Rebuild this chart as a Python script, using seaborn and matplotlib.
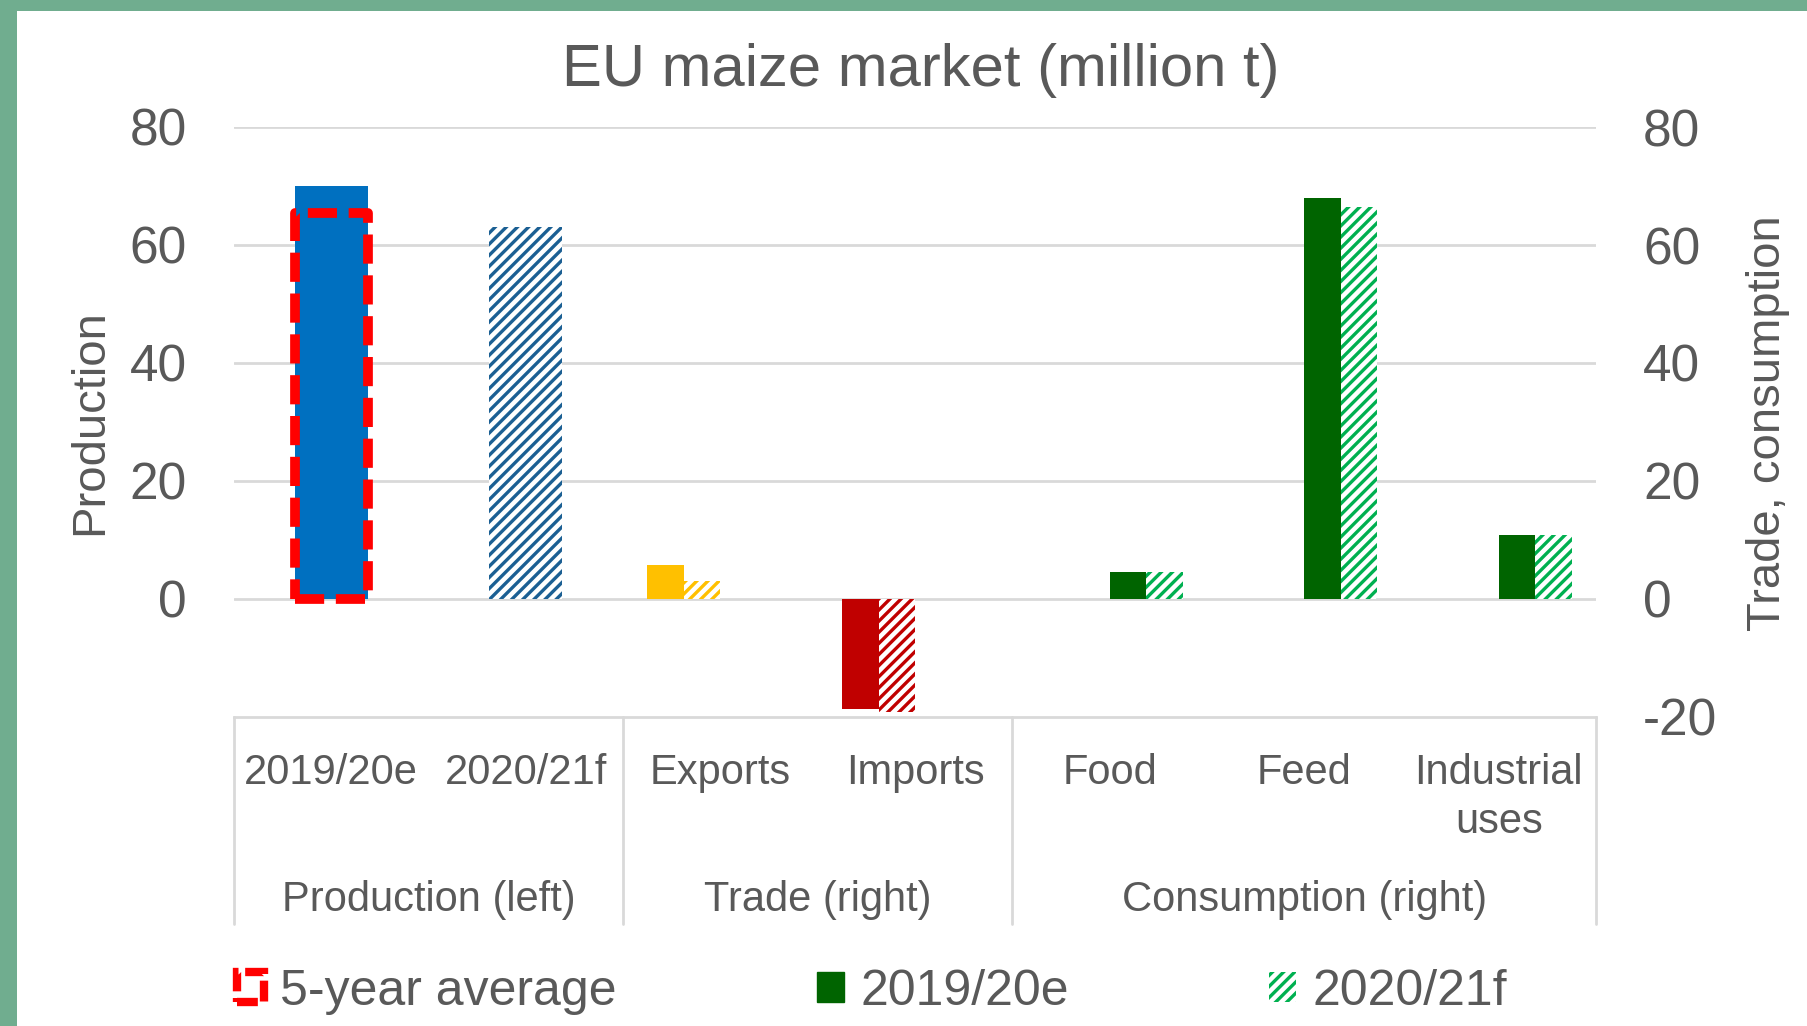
import matplotlib
matplotlib.use('Agg')
import matplotlib.pyplot as plt
from matplotlib.patches import Patch, Rectangle
import matplotlib.transforms as mtransforms
import seaborn as sns
import pandas as pd

# data (million t)
categories = ['2019/20e', '2020/21f', 'Exports', 'Imports', 'Food', 'Feed', 'Industrial\nuses']
groups = ['Production (left)', 'Trade (right)', 'Consumption (right)']
group_sizes = [2, 2, 3]

prod_cats = ['2019/20e', '2020/21f']
prod_vals = [70.0, 63.0]
five_year_avg = 65.5

trade_cats = ['Exports', 'Imports']
trade_1920 = [5.7, -18.6]
trade_2021 = [3.0, -19.2]

cons_cats = ['Food', 'Feed', 'Industrial\nuses']
cons_1920 = [4.5, 68.0, 10.9]
cons_2021 = [4.5, 66.4, 10.9]

# Excel puts trade pairs left of the tick and consumption pairs right of it
series = ['trade 2019/20e', 'trade 2020/21f', 'cons 2019/20e', 'cons 2020/21f']

solid_col = {'2019/20e': '#0070C0', 'Exports': '#FFC000', 'Imports': '#C00000',
             'Food': '#006400', 'Feed': '#006400', 'Industrial\nuses': '#006400'}
hatch_col = {'2020/21f': '#1B5F93', 'Exports': '#FFC000', 'Imports': '#C00000',
             'Food': '#00B050', 'Feed': '#00B050', 'Industrial\nuses': '#00B050'}

sns.set_theme(style='white')
plt.rcParams['font.family'] = ['Liberation Sans', 'DejaVu Sans']
plt.rcParams['axes.unicode_minus'] = False
plt.rcParams['hatch.linewidth'] = 2.4
txt = '#595959'
grid = '#D9D9D9'

fig = plt.figure(figsize=(18.07, 10.26), dpi=100)
fig.patch.set_facecolor('#70AD8F')
fig.add_artist(Rectangle((17 / 1807, 0), 1, 1 - 11 / 1026, transform=fig.transFigure,
                         facecolor='white', edgecolor='none', zorder=-5))
ax = fig.add_axes([234 / 1807, 1 - 717 / 1026, 1362 / 1807, 590 / 1026])
ax.set_facecolor('none')

prod_df = pd.DataFrame({'cat': prod_cats, 'val': prod_vals})
tc_df = pd.DataFrame({
    'cat': trade_cats * 2 + cons_cats * 2,
    'series': [series[0]] * 2 + [series[1]] * 2 + [series[2]] * 3 + [series[3]] * 3,
    'val': trade_1920 + trade_2021 + cons_1920 + cons_2021,
})

sns.barplot(data=prod_df, x='cat', y='val', hue='cat', order=categories,
            palette={c: '#0070C0' for c in prod_cats}, width=0.375, legend=False,
            ax=ax, zorder=2)
n_prod = len(ax.patches)
sns.barplot(data=tc_df, x='cat', y='val', hue='series', order=categories,
            hue_order=series, width=0.75, legend=False, ax=ax, zorder=2)

for k, p in enumerate(ax.patches):
    xc = p.get_x() + p.get_width() / 2
    i = int(round(xc))
    cat = categories[i]
    if k < n_prod:
        hatched = cat == '2020/21f'
    else:
        off = xc - i
        hatched = (-0.19 < off < 0) or off > 0.19
    p.set_linewidth(0)
    if hatched:
        p.set_facecolor('white')
        p.set_edgecolor(hatch_col[cat])
        p.set_hatch('///')
    else:
        p.set_facecolor(solid_col[cat])
        p.set_edgecolor(solid_col[cat])

# 5-year average outline
ax.bar([0], [five_year_avg], width=0.375, fill=False, edgecolor='#FF0000',
       linewidth=7, linestyle=(0, (3, 1.2)), joinstyle='round', zorder=3)

ax.set_ylim(-20, 80)
ax.set_xlim(-0.5, 6.5)
ax.set_yticks([0, 20, 40, 60, 80])
ax.yaxis.grid(True, color=grid, linewidth=2, zorder=0)
ax.set_axisbelow(True)
for s in ['left', 'right', 'top']:
    ax.spines[s].set_visible(False)
ax.spines['bottom'].set_color(grid)
ax.spines['bottom'].set_linewidth(2)
ax.tick_params(axis='y', length=0, pad=34, labelsize=37, labelcolor=txt)
ax.tick_params(axis='x', length=0, pad=26, labelsize=30, labelcolor=txt)
ax.set_xticks(range(len(categories)))
ax.set_xticklabels(categories, va='top', linespacing=1.3)
ax.set_xlabel('')
ax.set_ylabel('')

ax2 = ax.twinx()
ax2.set_ylim(-20, 80)
ax2.set_yticks([-20, 0, 20, 40, 60, 80])
ax2.tick_params(axis='y', length=0, pad=34, labelsize=37, labelcolor=txt)
for s in ax2.spines.values():
    s.set_visible(False)
ax2.grid(False)

# group labels and separators
trans = mtransforms.blended_transform_factory(ax.transData, ax.transAxes)
start = -0.5
for g, n in zip(groups, group_sizes):
    ax.text(start + n / 2, -0.31, g, transform=trans, ha='center', va='center',
            fontsize=30, color=txt)
    start += n
bounds = [-0.5]
for n in group_sizes:
    bounds.append(bounds[-1] + n)
for b in bounds:
    ax.plot([b, b], [0, -0.351], transform=trans, color=grid, linewidth=2, clip_on=False)

fig.text(921 / 1807, 1 - 71 / 1026, 'EU maize market (million t)', ha='center',
         va='center', fontsize=43, color=txt)
fig.text(90 / 1807, 1 - 422 / 1026, 'Production', rotation=90, ha='center',
         va='center', fontsize=34, color=txt)
fig.text(1768 / 1807, 1 - 423 / 1026, 'Trade, consumption', rotation=90, ha='center',
         va='center', fontsize=34, color=txt)

handles = [Patch(facecolor='none', edgecolor='#FF0000', linewidth=6, linestyle=(0, (2.5, 0.8))),
           Patch(facecolor='#006400', edgecolor='#006400'),
           Patch(facecolor='white', edgecolor='#00B050', hatch='///', linewidth=0)]
labels = ['5-year average', '2019/20e', '2020/21f']
fig.legend(handles, labels, loc='center left', bbox_to_anchor=(237 / 1807, 1 - 992 / 1026),
           ncol=3, frameon=False, fontsize=36, labelcolor=txt, borderpad=0,
           borderaxespad=0, handlelength=0.54, handleheight=0.54, handletextpad=0.33,
           columnspacing=4.0)

fig.savefig('out.png', dpi=100, facecolor=fig.get_facecolor())
